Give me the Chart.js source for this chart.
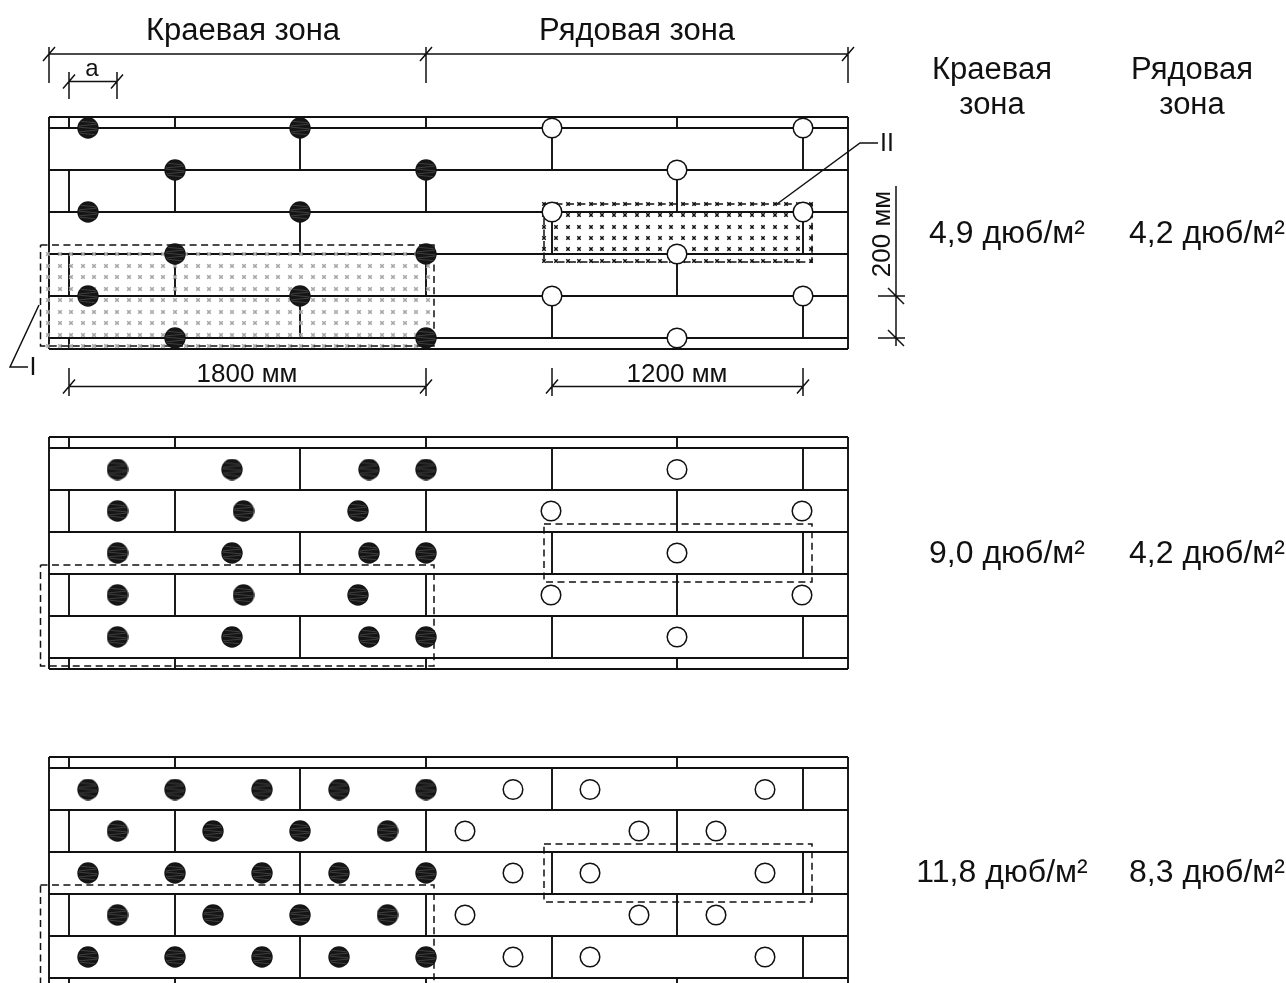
<!DOCTYPE html>
<html>
<head>
<meta charset="utf-8">
<style>
  html, body { margin: 0; padding: 0; background: #fff; overflow: hidden; }
  #wrap { width: 1286px; height: 983px; }
</style>
<script src="https://cdn.jsdelivr.net/npm/chart.js@4/dist/chart.umd.min.js"></script>
</head>
<body>
<div id="wrap"><canvas id="scheme" width="1286" height="983"></canvas></div>
<script>
// joints of the slab rows, repeated on each of the three panels
const panelShift = [0, 320, 640];
const rowLines = [128, 170, 212, 254, 296, 338];
const frameLeft = 49;
const frameRight = 848;
const frameTop = 117;
const frameBottom = 349;
const jointsA = [69, 175, 426, 677];
const jointsB = [300, 552, 803];
const rowsA = [[117, 128], [170, 212], [254, 296], [338, 349]];
const rowsB = [[128, 170], [212, 254], [296, 338]];

// dowels: panel 1
const filled1 = [[88, 128], [300, 128], [175, 170], [426, 170], [88, 212], [300, 212],
  [175, 254], [426, 254], [88, 296], [300, 296], [175, 338], [426, 338]];
const open1 = [[552, 128], [803, 128], [677, 170], [552, 212], [803, 212], [677, 254],
  [552, 296], [803, 296], [677, 338]];

// dowels: panel 2
const filled2 = [[117.5, 469.5], [232, 469.5], [369, 469.5], [426, 469.5],
  [117.5, 511], [243.5, 511], [358, 511],
  [117.5, 553], [232, 553], [369, 553], [426, 553],
  [117.5, 595], [243.5, 595], [358, 595],
  [117.5, 637], [232, 637], [369, 637], [426, 637]];
const open2 = [[677, 469.5], [551, 511], [802, 511], [677, 553], [551, 595], [802, 595], [677, 637]];

// dowels: panel 3
const filled3 = [[88, 789.5], [175, 789.5], [262, 789.5], [339, 789.5], [426, 789.5],
  [117.5, 831], [213, 831], [300, 831], [387.5, 831],
  [88, 873], [175, 873], [262, 873], [339, 873], [426, 873],
  [117.5, 915], [213, 915], [300, 915], [387.5, 915],
  [88, 957], [175, 957], [262, 957], [339, 957], [426, 957]];
const open3 = [[513, 789.5], [590, 789.5], [765, 789.5], [465, 831], [639, 831], [716, 831],
  [513, 873], [590, 873], [765, 873], [465, 915], [639, 915], [716, 915],
  [513, 957], [590, 957], [765, 957]];

// dashed areas I and II [left, top, right, bottom]
const areasI = [[40.5, 245, 434, 346], [40.5, 565, 434, 666], [40.5, 885, 434, 1000]];
const areasII = [[544, 204, 812, 262], [544, 524, 812, 582], [544, 844, 812, 902]];

// hatch of the two details on panel 1
const hatchXI = [48, 60, 71, 83, 94, 106, 117, 129, 140, 152, 163, 175, 186, 198, 209, 221, 232,
  244, 255, 267, 278, 290, 301, 313, 324, 336, 347, 359, 370, 382, 393, 405, 416, 428];
const hatchYI = [254, 266, 277, 289, 300, 312, 323, 335, 346];
const hatchXII = [544, 556, 568, 579, 591, 602, 614, 625, 637, 648, 660, 671, 683, 694, 706,
  717, 729, 740, 752, 763, 775, 786, 798, 811];
const hatchYII = [204, 215, 227, 238, 249, 261];

// dimension lines and leaders, each one a polyline
const dimLines = [
  [[49, 54], [848, 54]], [[49, 47], [49, 83]], [[426, 47], [426, 83]], [[848, 47], [848, 83]],
  [[69, 81.5], [117, 81.5]], [[69, 72], [69, 99]], [[117, 72], [117, 99]],
  [[69, 386.5], [426, 386.5]], [[69, 368], [69, 396]], [[426, 368], [426, 396]],
  [[552, 386.5], [803, 386.5]], [[552, 368], [552, 396]], [[803, 368], [803, 396]],
  [[896, 186], [896, 346]], [[878, 296], [905, 296]], [[878, 338], [905, 338]],
  [[39, 305], [10, 367], [28, 367]],
  [[777, 204], [860, 143], [878, 143]]
];
const dimTicks = [[49, 54], [426, 54], [848, 54], [69, 81.5], [117, 81.5],
  [69, 386.5], [426, 386.5], [552, 386.5], [803, 386.5]];
const dimTicksBack = [[896, 296], [896, 338]];

// texts [x, y, text, size, rotation]
const labels = [
  [243, 31, "Краевая зона", 31, 0],
  [637, 31, "Рядовая зона", 31, 0],
  [92, 69, "а", 24, 0],
  [247, 375, "1800 мм", 26, 0],
  [677, 375, "1200 мм", 26, 0],
  [883, 234, "200 мм", 26, -90],
  [33, 368, "I", 25, 0],
  [887, 144, "II", 25, 0],
  [992, 70, "Краевая", 31, 0],
  [992, 105, "зона", 31, 0],
  [1192, 70, "Рядовая", 31, 0],
  [1192, 105, "зона", 31, 0],
  [1007, 234, "4,9 дюб/м²", 32, 0],
  [1207, 234, "4,2 дюб/м²", 32, 0],
  [1007, 554, "9,0 дюб/м²", 32, 0],
  [1207, 554, "4,2 дюб/м²", 32, 0],
  [1002, 873, "11,8 дюб/м²", 32, 0],
  [1207, 873, "8,3 дюб/м²", 32, 0]
];

const pt = p => ({ x: p[0], y: p[1] });
const gap = { x: null, y: null };

// solid slab lines
const slabPts = [];
panelShift.forEach(s => {
  const seg = (x1, y1, x2, y2) => slabPts.push({ x: x1, y: y1 + s }, { x: x2, y: y2 + s }, gap);
  rowLines.forEach(y => seg(frameLeft, y, frameRight, y));
  seg(frameLeft, frameTop, frameRight, frameTop);
  seg(frameLeft, frameBottom, frameRight, frameBottom);
  seg(frameLeft, frameTop, frameLeft, frameBottom);
  seg(frameRight, frameTop, frameRight, frameBottom);
  rowsA.forEach(r => jointsA.forEach(x => seg(x, r[0], x, r[1])));
  rowsB.forEach(r => jointsB.forEach(x => seg(x, r[0], x, r[1])));
});

const dimPts = [];
dimLines.forEach(l => { l.forEach(p => dimPts.push(pt(p))); dimPts.push(gap); });
dimTicks.forEach(p => dimPts.push({ x: p[0] - 6, y: p[1] + 7 }, { x: p[0] + 6, y: p[1] - 7 }, gap));
dimTicksBack.forEach(p => dimPts.push({ x: p[0] - 8, y: p[1] - 8 }, { x: p[0] + 8, y: p[1] + 8 }, gap));

const boxPts = [];
areasI.concat(areasII).forEach(b => {
  boxPts.push({ x: b[0], y: b[1] }, { x: b[2], y: b[1] }, { x: b[2], y: b[3] },
    { x: b[0], y: b[3] }, { x: b[0], y: b[1] }, gap);
});

const grid = (xs, ys) => ys.flatMap(y => xs.map(x => ({ x, y })));

// filled dowel sprite: black disc with faint grey streaks like in the scan
function dowelSprite() {
  const r = 10.7, c = document.createElement("canvas");
  c.width = c.height = 22;
  const g = c.getContext("2d");
  g.fillStyle = "#151515";
  g.beginPath(); g.arc(11, 11, r, 0, Math.PI * 2); g.fill();
  g.save();
  g.beginPath(); g.arc(11, 11, r - 1, 0, Math.PI * 2); g.clip();
  g.strokeStyle = "rgba(150,150,150,0.55)";
  g.lineWidth = 0.6;
  [5, 8, 11, 14, 17].forEach((y, i) => {
    g.beginPath();
    g.moveTo(1, y + (i % 2 ? 1 : -1));
    g.lineTo(21, y + (i % 2 ? -1 : 1));
    g.stroke();
  });
  g.restore();
  return c;
}
const sprite = dowelSprite();

const textPlugin = {
  id: "drawingText",
  afterDraw(chart) {
    const { ctx, scales } = chart;
    ctx.save();
    ctx.fillStyle = "#111";
    ctx.textAlign = "center";
    ctx.textBaseline = "middle";
    labels.forEach(l => {
      ctx.save();
      ctx.translate(scales.x.getPixelForValue(l[0]), scales.y.getPixelForValue(l[1]));
      ctx.rotate(l[4] * Math.PI / 180);
      ctx.font = l[3] + 'px "Liberation Sans", Arial, sans-serif';
      ctx.fillText(l[2], 0, 0);
      ctx.restore();
    });
    ctx.restore();
  }
};

const lineSet = (label, data, width, extra) => Object.assign({
  label, data, showLine: true, pointRadius: 0, borderColor: "#111", borderWidth: width,
  spanGaps: false, tension: 0
}, extra);

new Chart(document.getElementById("scheme"), {
  type: "scatter",
  plugins: [textPlugin],
  data: {
    datasets: [
      lineSet("Стыки", slabPts, 1.9, { order: 6 }),
      { label: "Зона I", data: grid(hatchXI, hatchYI), pointStyle: "crossRot", pointRadius: 2.5,
        pointBorderWidth: 1.6, borderColor: "#a6a6a6", backgroundColor: "#a6a6a6", order: 5 },
      { label: "Зона II", data: grid(hatchXII, hatchYII), pointStyle: "crossRot", pointRadius: 2.4,
        pointBorderWidth: 1.5, borderColor: "#111", backgroundColor: "#111", order: 4 },
      lineSet("Границы зон", boxPts, 1.5, { borderDash: [7, 4.47], order: 3 }),
      lineSet("Размеры", dimPts, 1.5, { order: 3 }),
      { label: "Дюбели рядовые", data: open1.concat(open2, open3).map(pt), pointStyle: "circle", pointRadius: 9.8,
        pointBorderWidth: 1.5, borderColor: "#111", backgroundColor: "#fff", order: 2 },
      { label: "Дюбели краевые", data: filled1.concat(filled2, filled3).map(pt), pointStyle: sprite,
        order: 1 }
    ]
  },
  options: {
    responsive: false,
    animation: false,
    events: [],
    layout: { padding: 0, autoPadding: false },
    plugins: { legend: { display: false }, tooltip: { enabled: false }, title: { display: false } },
    scales: {
      x: { type: "linear", min: 0, max: 1286, display: false },
      y: { type: "linear", min: 0, max: 983, reverse: true, display: false }
    }
  }
});
</script>
</body>
</html>
